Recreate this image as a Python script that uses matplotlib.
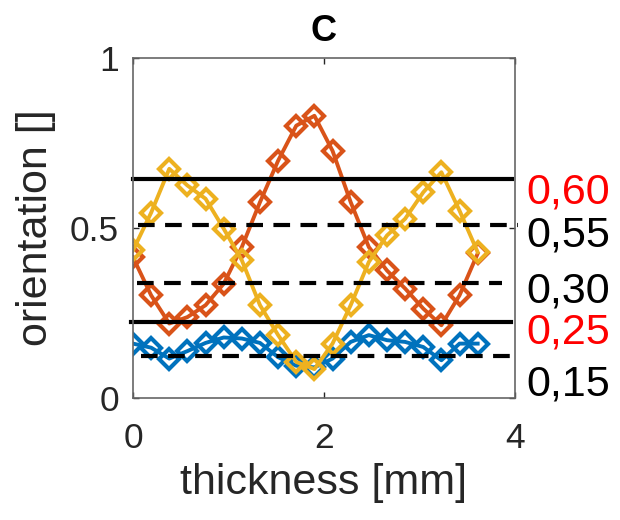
import matplotlib
matplotlib.use("Agg")
import matplotlib.pyplot as plt
import numpy as np

plt.rcParams["font.family"] = ["Liberation Sans", "DejaVu Sans"]

# thickness samples [mm]
thickness = [0.00, 0.19, 0.38, 0.57, 0.76, 0.95, 1.14, 1.33, 1.52, 1.71,
             1.90, 2.09, 2.28, 2.47, 2.66, 2.85, 3.04, 3.23, 3.42, 3.61]

blue = [0.160, 0.148, 0.116, 0.138, 0.162, 0.178, 0.175, 0.162, 0.120, 0.095,
        0.090, 0.116, 0.165, 0.185, 0.170, 0.165, 0.150, 0.111, 0.160, 0.160]
orange = [0.414, 0.302, 0.219, 0.238, 0.273, 0.336, 0.444, 0.576, 0.698, 0.801,
          0.830, 0.727, 0.576, 0.444, 0.375, 0.322, 0.263, 0.214, 0.302, 0.425]
yellow = [0.434, 0.545, 0.674, 0.625, 0.586, 0.498, 0.405, 0.273, 0.185, 0.106,
          0.085, 0.160, 0.273, 0.400, 0.478, 0.527, 0.605, 0.664, 0.551, 0.429]

# horizontal reference lines (drawn level, start, end, style)
ref_levels = [0.644, 0.509, 0.339, 0.224, 0.123]
ref_x0 = [0.00, 0.05, 0.04, -0.02, 0.08]
ref_x1 = [3.97, 4.03, 3.87, 3.96, 4.05]
ref_solid = [True, False, False, True, False]

# labels written to the right of the axes
ref_labels = ["0,60", "0,55", "0,30", "0,25", "0,15"]
ref_label_colors = ["red", "black", "black", "red", "black"]
ref_label_y = [0.573, 0.447, 0.280, 0.160, 0.007]

fig = plt.figure(figsize=(6.2, 5.2), dpi=100)
ax = fig.add_axes([0.2145, 0.2346, 0.616, 0.6539])

for ys, col in [(blue, "#0072BD"), (orange, "#D95319"), (yellow, "#EDB120")]:
    ax.plot(thickness, ys, color=col, lw=2.8, marker="D", ms=10.5,
            mfc="none", mec=col, mew=3)

for lev, x0, x1, solid in zip(ref_levels, ref_x0, ref_x1, ref_solid):
    if solid:
        ax.plot([x0, x1], [lev, lev], color="black", lw=3, clip_on=False)
    else:
        ax.plot([x0, x1], [lev, lev], color="black", lw=3, clip_on=False,
                dashes=(4, 2.5))

for txt, col, yy in zip(ref_labels, ref_label_colors, ref_label_y):
    ax.text(4.125, yy, txt, color=col, fontsize=31, va="baseline", ha="left",
            clip_on=False)

ax.set_xlim(0, 4)
ax.set_ylim(0, 1)
ax.set_xticks([0, 2, 4])
ax.set_yticks([0, 0.5, 1])
ax.set_yticklabels(["0", "0.5", "1"])
ax.tick_params(direction="in", length=4, width=1, color="#262626",
               labelsize=25.5, labelcolor="#262626", top=True, right=True)
ax.tick_params(axis="x", pad=17)
ax.tick_params(axis="y", pad=10)
for sp in ax.spines.values():
    sp.set_color("#666666")
    sp.set_linewidth(1.2)

ax.set_xlabel("thickness [mm]", fontsize=31, color="#262626", labelpad=6)
ax.set_ylabel("orientation []", fontsize=31, color="#262626", labelpad=10)
ax.set_title("C", fontsize=26, fontweight="bold", pad=12)

fig.savefig("out.png", dpi=100)
